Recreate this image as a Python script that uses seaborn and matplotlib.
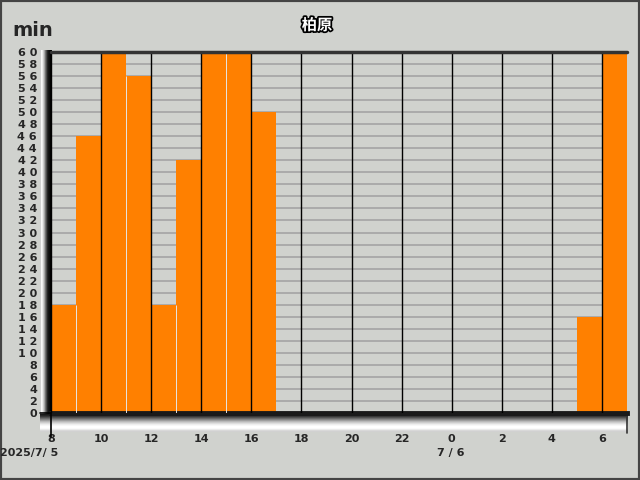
import matplotlib
matplotlib.use('Agg')
import matplotlib.pyplot as plt
import matplotlib.patheffects as pe
import numpy as np
import pandas as pd
import seaborn as sns

# hourly rainfall minutes, from 8:00 on 7/5 to 6:00 on 7/6
hours = [8, 9, 10, 11, 12, 13, 14, 15, 16, 17, 18, 19, 20, 21, 22, 23, 0, 1, 2, 3, 4, 5, 6]
minutes = [18, 46, 60, 56, 18, 42, 60, 60, 50, 0, 0, 0, 0, 0, 0, 0, 0, 0, 0, 0, 0, 16, 60]
x_ticks = ['8', '10', '12', '14', '16', '18', '20', '22', '0', '2', '4', '6']
y_ticks = list(range(0, 61, 2))
title = '柏原'
unit = 'min'
date_labels = ['2025/7/ 5', '7 / 6']

bg = '#d0d2ce'
df = pd.DataFrame({'slot': range(len(hours)), 'min': minutes})

sns.set_style('white')
plt.rcParams['font.family'] = ['DejaVu Sans', 'Noto Sans CJK JP']

W, H = 640, 480
fig = plt.figure(figsize=(6.4, 4.8), dpi=100, facecolor=bg)


def px_axes(x0, y0, x1, y1):
    # axes from pixel box (top-left origin)
    return fig.add_axes([x0 / W, 1 - y1 / H, (x1 - x0) / W, (y1 - y0) / H])


# 3D-ish frame: left column and bottom floor gradients
grey = plt.get_cmap('gray')
lc = px_axes(40, 50, 52, 416)
lc.imshow(np.array([[0.82, 0.97, 0.92, 0.8, 0.65, 0.45, 0.3, 0.15, 0.08, 0.05, 0.0, 0.0]]),
          cmap=grey, vmin=0, vmax=1, aspect='auto', interpolation='nearest')
lc.axis('off')
fl = px_axes(40, 414, 628, 432)
fl.imshow(np.array([0.1, 0.15, 0.22, 0.32, 0.42, 0.52, 0.62, 0.72, 0.8, 0.87, 0.93, 0.97,
                    1.0, 1.0, 0.98, 0.92, 0.85, 0.82]).reshape(-1, 1),
          cmap=grey, vmin=0, vmax=1, aspect='auto', interpolation='nearest')
fl.axis('off')

ax = px_axes(51, 52, 627, 413)
ax.set_facecolor(bg)

# horizontal grid every 2 min
for v in y_ticks:
    ax.axhline(v, color='#a4a4a4', lw=1.2, zorder=0)

sns.barplot(data=df, x='slot', y='min', color='#ff8000', width=1.0,
            saturation=1, edgecolor='none', linewidth=0, ax=ax, zorder=2)

ax.set_xlim(-0.5, len(hours) - 0.5)
ax.set_ylim(0, 60)

# vertical lines at even hours (bar edges)
tick_pos = [-0.5 + 2 * i for i in range(len(x_ticks))]
for p in tick_pos:
    ax.axvline(p, color='black', lw=1.0, zorder=3)
# light seams between bars at odd hours
for i in range(1, len(minutes), 2):
    top = min(minutes[i - 1], minutes[i])
    if top > 0:
        ax.vlines(i - 0.5, 0, top, color='#e6e6e6', lw=0.7, zorder=3)

ax.set_xticks(tick_pos)
ax.set_xticklabels(x_ticks, fontsize=8, fontweight='bold')
ax.set_yticks(y_ticks)
ax.set_yticklabels([' '.join(str(v)) for v in y_ticks], fontsize=8, fontweight='bold')
ax.tick_params(axis='x', length=0, pad=15)
ax.tick_params(axis='y', length=0, pad=10)
ax.set_xlabel('')
ax.set_ylabel('')

for s in ['top', 'right', 'left']:
    ax.spines[s].set_visible(False)
ax.spines['bottom'].set_color('#1a1a1a')
ax.spines['bottom'].set_linewidth(3.5)
ax.plot([0, 1], [1, 1], transform=ax.transAxes, color='#333333', lw=2.5, clip_on=False, zorder=4)
ax.plot([1, 1], [-0.01, -0.055], transform=ax.transAxes, color='#333333', lw=1.2, clip_on=False, zorder=4)
# the crossing marks at origin
ax.plot([-0.019, 0], [0, 0], transform=ax.transAxes, color='black', lw=1.2, clip_on=False, zorder=5)
ax.plot([0, 0], [0, -0.066], transform=ax.transAxes, color='black', lw=1.2, clip_on=False, zorder=5)

fig.text(12 / W, 1 - 30 / H, unit, fontsize=14, fontweight='bold', va='center', ha='left')
fig.text(317 / W, 1 - 25 / H, title, fontsize=11, fontweight='bold', color='white',
         family=['Noto Sans CJK JP', 'DejaVu Sans'], ha='center', va='center',
         path_effects=[pe.withStroke(linewidth=2.5, foreground='black')])
fig.text(0 / W, 1 - 453 / H, date_labels[0], fontsize=8, fontweight='bold', ha='left', va='center')
fig.text(451 / W, 1 - 453 / H, date_labels[1], fontsize=8, fontweight='bold', ha='center', va='center')

# figure border
fig.patches.append(plt.Rectangle((0, 0), 1, 1, transform=fig.transFigure, fill=False,
                                 edgecolor='#444444', lw=3))

fig.savefig('out.png', dpi=100, facecolor=bg)
